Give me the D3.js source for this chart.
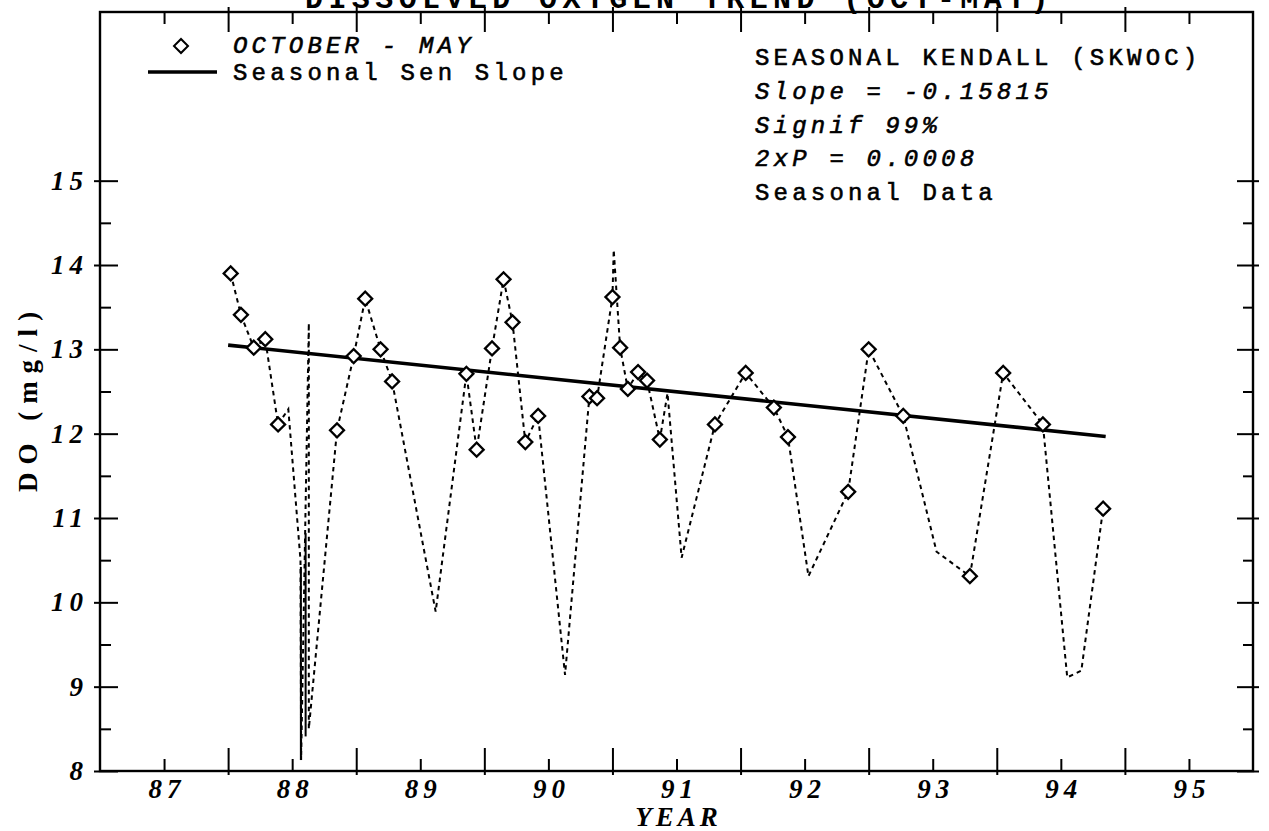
<!DOCTYPE html>
<html>
<head>
<meta charset="utf-8">
<script src="https://cdn.jsdelivr.net/npm/d3@7"></script>
<style>
  html, body { margin: 0; padding: 0; background: #fff; }
  svg { display: block; }
</style>
</head>
<body>
<svg id="chart" width="1269" height="831"></svg>
<script>
// Dissolved oxygen samples (water year, mg/l); every sample is traced by the
// dotted line, the October–May samples are also marked with diamonds.
const sampleYear = [87.52, 87.60, 87.70, 87.79, 87.89, 87.97, 88.065, 88.07, 88.13, 88.13,
  88.35, 88.48, 88.57, 88.69, 88.78, 89.12, 89.36, 89.44, 89.56, 89.65,
  89.72, 89.82, 89.92, 90.13, 90.32, 90.38, 90.50, 90.51, 90.56, 90.62,
  90.70, 90.77, 90.87, 90.93, 91.04, 91.30, 91.54, 91.76, 91.87, 92.03,
  92.34, 92.50, 92.77, 93.03, 93.29, 93.55, 93.86, 94.05, 94.16, 94.33];
const sampleDO = [13.90, 13.41, 13.02, 13.12, 12.11, 12.29, 10.50, 8.13, 13.31, 8.50,
  12.04, 12.92, 13.60, 13.00, 12.62, 9.89, 12.71, 11.81, 13.01, 13.83,
  13.32, 11.90, 12.21, 9.14, 12.44, 12.42, 13.62, 14.18, 13.02, 12.53,
  12.73, 12.63, 11.93, 12.48, 10.53, 12.11, 12.72, 12.31, 11.96, 10.31,
  11.31, 13.00, 12.21, 10.60, 10.31, 12.72, 12.11, 9.11, 9.19, 11.11];
const octMay = [1, 1, 1, 1, 1, 0, 0, 0, 0, 0,
  1, 1, 1, 1, 1, 0, 1, 1, 1, 1,
  1, 1, 1, 0, 1, 1, 1, 0, 1, 1,
  1, 1, 1, 0, 0, 1, 1, 1, 1, 0,
  1, 1, 1, 0, 1, 1, 1, 0, 0, 1];

// Solid drop-outs recorded early in 1988
const dropYear = [88.068, 88.105];
const dropHigh = [10.42, 10.82];
const dropLow  = [8.13, 8.41];

// Seasonal Sen slope fit
const senSlope = -0.15815;
const senStartYear = 87.5;
const senEndYear = 94.35;
const senStartDO = 13.05;

// Axis ticks
const yearTicks = [87, 88, 89, 90, 91, 92, 93, 94, 95];
const halfYearTicks = [87.5, 88.5, 89.5, 90.5, 91.5, 92.5, 93.5, 94.5];
const doTicks = [8, 9, 10, 11, 12, 13, 14, 15];
const doHalfTicks = [8.5, 9.5, 10.5, 11.5, 12.5, 13.5, 14.5];

const titleText = "DISSOLVED OXYGEN TREND (OCT-MAY)";
const legendPoints = "OCTOBER - MAY";
const legendLine = "Seasonal Sen Slope";
const statsLines = [
  { text: "SEASONAL KENDALL (SKWOC)", italic: false },
  { text: "Slope = -0.15815", italic: true },
  { text: "Signif 99%", italic: true },
  { text: "2xP = 0.0008", italic: true },
  { text: "Seasonal Data", italic: false }
];

const plotLeft = 100, plotRight = 1253, plotTop = 12, plotBottom = 771;
const svg = d3.select("#chart");

const x = d3.scaleLinear().domain([86.5, 95.5]).range([plotLeft, plotRight]);
const y = d3.scaleLinear().domain([8, 17]).range([plotBottom, plotTop]);

const mono = "'Liberation Mono', 'Courier New', monospace";
const serif = "'Liberation Serif', 'Times New Roman', serif";

// Title (sits at the very top edge)
svg.append("text")
  .attr("x", (plotLeft + plotRight) / 2 + 3).attr("y", 8)
  .attr("text-anchor", "middle")
  .style("font-family", mono).style("font-weight", "bold")
  .style("font-size", "30px").style("letter-spacing", "5.4px")
  .text(titleText);

// Frame
svg.append("rect")
  .attr("x", plotLeft).attr("y", plotTop)
  .attr("width", plotRight - plotLeft).attr("height", plotBottom - plotTop)
  .attr("fill", "none").attr("stroke", "#000").attr("stroke-width", 2.4);

function styleAxis(g) {
  g.select(".domain").remove();
  g.selectAll(".tick line").attr("stroke", "#000").attr("stroke-width", 2);
}
function styleTickText(g) {
  g.selectAll("text")
    .style("font-family", serif).style("font-style", "italic").style("font-weight", "bold")
    .style("font-size", "27px").style("letter-spacing", "5px").attr("fill", "#000");
}

// Bottom axis: short ticks at years (labelled), long ticks at half years
const xb = svg.append("g").attr("transform", `translate(0,${plotBottom})`)
  .call(d3.axisBottom(x).tickValues(yearTicks).tickSize(-12).tickPadding(8).tickFormat(d3.format("d")));
styleAxis(xb);
styleTickText(xb);
xb.selectAll("text").attr("dx", 2.5);
const xbh = svg.append("g").attr("transform", `translate(0,${plotBottom})`)
  .call(d3.axisBottom(x).tickValues(halfYearTicks).tickSize(-23).tickFormat(""));
styleAxis(xbh);
xbh.selectAll(".tick line").attr("y1", 4);

// Top axis mirrors the bottom ticks
const xt = svg.append("g").attr("transform", `translate(0,${plotTop})`)
  .call(d3.axisTop(x).tickValues(yearTicks).tickSize(-12).tickFormat(""));
styleAxis(xt);
const xth = svg.append("g").attr("transform", `translate(0,${plotTop})`)
  .call(d3.axisTop(x).tickValues(halfYearTicks).tickSize(-20).tickFormat(""));
styleAxis(xth);
xth.selectAll(".tick line").attr("y1", -5);

// Left axis
const yl = svg.append("g").attr("transform", `translate(${plotLeft},0)`)
  .call(d3.axisLeft(y).tickValues(doTicks).tickSize(-18).tickPadding(12).tickFormat(d3.format("d")));
styleAxis(yl);
yl.selectAll(".tick line").attr("x1", -6);
styleTickText(yl);
const ylh = svg.append("g").attr("transform", `translate(${plotLeft},0)`)
  .call(d3.axisLeft(y).tickValues(doHalfTicks).tickSize(-11).tickFormat(""));
styleAxis(ylh);

// Right axis
const yr = svg.append("g").attr("transform", `translate(${plotRight},0)`)
  .call(d3.axisRight(y).tickValues(doTicks).tickSize(-16).tickFormat(""));
styleAxis(yr);
yr.selectAll(".tick line").attr("x1", 6);
const yrh = svg.append("g").attr("transform", `translate(${plotRight},0)`)
  .call(d3.axisRight(y).tickValues(doHalfTicks).tickSize(-10).tickFormat(""));
styleAxis(yrh);

// Axis titles
svg.append("text")
  .attr("x", (plotLeft + plotRight) / 2 + 2).attr("y", 826)
  .attr("text-anchor", "middle")
  .style("font-family", serif).style("font-style", "italic").style("font-weight", "bold")
  .style("font-size", "27px").style("letter-spacing", "4px")
  .text("YEAR");
svg.append("text")
  .attr("transform", "translate(37,398) rotate(-90)")
  .attr("text-anchor", "middle")
  .style("font-family", serif).style("font-weight", "bold")
  .style("font-size", "27px").style("letter-spacing", "8px")
  .text("DO (mg/l)");

// Sample trace
const samples = sampleYear.map((yv, i) => ({ year: yv, value: sampleDO[i], marked: octMay[i] === 1 }));
const line = d3.line().x(d => x(d.year)).y(d => y(d.value));
svg.append("path")
  .datum(samples)
  .attr("d", line)
  .attr("fill", "none").attr("stroke", "#000")
  .attr("stroke-width", 2).attr("stroke-dasharray", "4.5,4");

// Drop-out segments
svg.selectAll(".drop")
  .data(dropYear.map((yv, i) => ({ year: yv, hi: dropHigh[i], lo: dropLow[i] })))
  .join("line").attr("class", "drop")
  .attr("x1", d => x(d.year)).attr("x2", d => x(d.year))
  .attr("y1", d => y(d.hi)).attr("y2", d => y(d.lo))
  .attr("stroke", "#000").attr("stroke-width", 2);

// Seasonal Sen slope line
const senData = [senStartYear, senEndYear].map(yv => ({ year: yv, value: senStartDO + senSlope * (yv - senStartYear) }));
svg.append("path")
  .datum(senData)
  .attr("d", line)
  .attr("fill", "none").attr("stroke", "#000").attr("stroke-width", 3.6);

// October–May markers
const diamond = d3.symbol().type(d3.symbolSquare).size(98);
svg.selectAll(".mark")
  .data(samples.filter(d => d.marked))
  .join("path").attr("class", "mark")
  .attr("d", diamond)
  .attr("transform", d => `translate(${x(d.year)},${y(d.value)}) rotate(45)`)
  .attr("fill", "#fff").attr("stroke", "#000").attr("stroke-width", 2.3);

// Legend and statistics share a typewriter face, slightly thickened
function typewriter(sel) {
  sel.style("font-family", mono).style("font-size", "24px").style("letter-spacing", "4.2px")
    .attr("fill", "#000").attr("stroke", "#000").attr("stroke-width", 0.6);
}

const legend = svg.append("g");
legend.append("path")
  .attr("d", diamond)
  .attr("transform", "translate(181,46) rotate(45)")
  .attr("fill", "#fff").attr("stroke", "#000").attr("stroke-width", 2);
legend.append("text")
  .attr("x", 233).attr("y", 53)
  .call(typewriter)
  .style("font-style", "italic")
  .text(legendPoints);
legend.append("line")
  .attr("x1", 148).attr("x2", 217).attr("y1", 72).attr("y2", 72)
  .attr("stroke", "#000").attr("stroke-width", 3.6);
legend.append("text")
  .attr("x", 233).attr("y", 80)
  .call(typewriter)
  .text(legendLine);

// Trend statistics
svg.append("g").selectAll("text")
  .data(statsLines)
  .join("text")
  .attr("x", 755).attr("y", (d, i) => 65 + i * 33.8)
  .call(typewriter)
  .style("font-style", d => d.italic ? "italic" : "normal")
  .text(d => d.text);
</script>
</body>
</html>
